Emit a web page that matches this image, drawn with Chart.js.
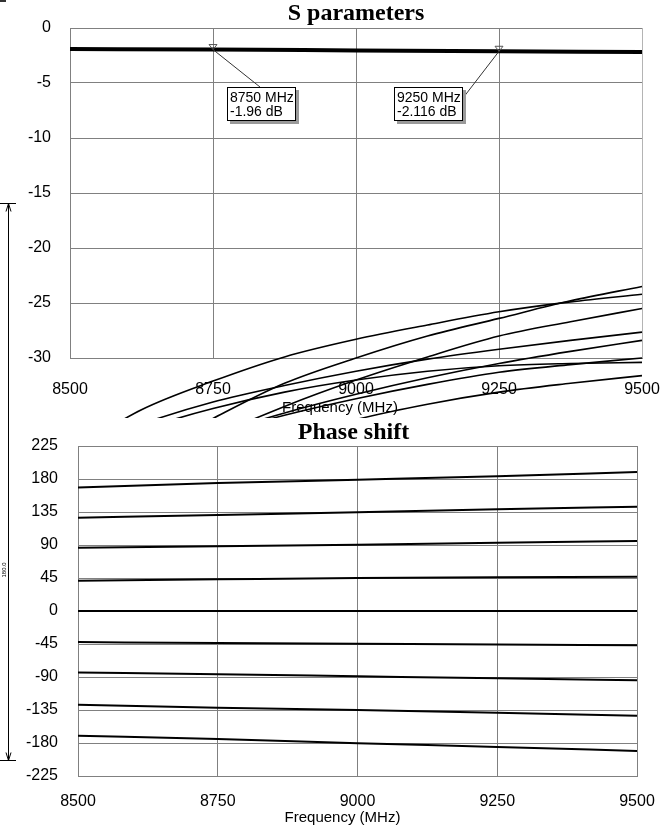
<!DOCTYPE html>
<html>
<head>
<meta charset="utf-8">
<script src="https://cdn.jsdelivr.net/npm/chart.js@4.4.1/dist/chart.umd.min.js"></script>
<style>
  html, body { margin: 0; padding: 0; background: #fff; }
  #wrap { position: relative; width: 662px; height: 832px; overflow: hidden; background: #fff; }
  #wrap canvas { position: absolute; left: 0; top: 0; }
</style>
</head>
<body>
<div id="wrap">
  <canvas id="sChart" width="662" height="418"></canvas>
  <canvas id="phChart" width="662" height="832"></canvas>
</div>
<script>
// ---- frequency axis ----
const X_TICKS = [8500, 8750, 9000, 9250, 9500];
const S_Y_TICKS = [0, -5, -10, -15, -20, -25, -30];
const PH_Y_TICKS = [225, 180, 135, 90, 45, 0, -45, -90, -135, -180, -225];

// ---- transmission (dB) ----
const FREQ = [8500, 8750, 9000, 9250, 9500];
const S21_DB = [-1.92, -1.96, -2.04, -2.116, -2.19];

// ---- marker readouts ----
const MARKER_FREQ = [8750, 9250];
const MARKER_DB = [-1.96, -2.116];

// ---- port reflections (dB) ----
const RL_FREQ = [8500, 8625, 8750, 8875, 9000, 9125, 9250, 9375, 9500];
const S11_DB = [-38.5, -34.7, -32.1, -29.9, -28.3, -27.0, -25.8, -24.9, -24.2];
const S22_DB = [-43.0, -39.0, -35.5, -32.3, -30.0, -28.0, -26.4, -24.8, -23.5];
const S33_DB = [-44.0, -40.5, -37.2, -34.4, -32.0, -29.9, -28.0, -26.7, -25.5];
const S44_DB = [-38.5, -36.0, -34.0, -32.5, -31.2, -30.1, -29.2, -28.4, -27.65];
const S55_DB = [-42.0, -39.5, -37.0, -35.0, -33.3, -31.8, -30.5, -29.4, -28.4];
const S66_DB = [-41.0, -39.0, -37.0, -35.2, -33.7, -32.4, -31.3, -30.6, -30.0];
const S77_DB = [-39.0, -36.5, -34.6, -33.1, -32.0, -31.2, -30.7, -30.5, -30.4];
const S88_DB = [-45.0, -42.0, -39.5, -37.5, -35.6, -34.2, -33.1, -32.3, -31.6];

// ---- phase states (deg) ----
const PH_180 = [168.5, 174.5, 179.0, 183.7, 189.6];
const PH_135 = [127.2, 130.9, 134.5, 138.7, 142.3];
const PH_90  = [86.3, 88.2, 90.5, 93.2, 95.5];
const PH_45  = [41.3, 43.2, 45.0, 45.9, 46.8];
const PH_0   = [0, 0, 0, 0, 0];
const PH_M45 = [-42.4, -43.8, -44.7, -45.6, -46.6];
const PH_M90 = [-83.9, -86.2, -89.0, -91.8, -94.5];
const PH_M135 = [-127.7, -131.9, -135.1, -138.8, -142.9];
const PH_M180 = [-170.1, -174.7, -180.3, -185.3, -190.9];

const SANS = "'Liberation Sans', Arial, Helvetica, sans-serif";
const SERIF = "'Liberation Serif', 'Times New Roman', serif";
const GRID = '#808080';

Chart.defaults.font.family = SANS;
Chart.defaults.font.size = 16;
Chart.defaults.color = '#000';

const pts = (xs, ys) => xs.map((x, i) => ({ x, y: ys[i] }));
const fixedTicks = list => scale => { scale.ticks = list.map(v => ({ value: v })); };

function line(xs, ys, width) {
  return {
    data: pts(xs, ys),
    borderColor: '#000',
    borderWidth: width,
    pointRadius: 0,
    cubicInterpolationMode: 'monotone',
    clip: false
  };
}

function xAxis(height, pad, gridColor) {
  return {
    type: 'linear', min: 8500, max: 9500,
    afterBuildTicks: fixedTicks(X_TICKS),
    afterFit: s => { s.height = height; s.paddingLeft = 0; s.paddingRight = 0; },
    grid: { color: gridColor || GRID, lineWidth: 1, drawTicks: false },
    border: { color: GRID },
    ticks: { padding: pad, maxRotation: 0, autoSkip: false, callback: v => String(v) }
  };
}

function yAxis(min, max, list, width, pad) {
  return {
    type: 'linear', min, max,
    afterBuildTicks: fixedTicks(list),
    afterFit: s => { s.width = width; s.paddingTop = 0; s.paddingBottom = 0; },
    grid: { color: GRID, lineWidth: 1, drawTicks: false },
    border: { color: GRID },
    ticks: { padding: pad, autoSkip: false, callback: v => String(v) }
  };
}

const baseOptions = {
  responsive: false,
  animation: false,
  devicePixelRatio: 1,
  events: [],
  plugins: { legend: { display: false }, tooltip: { enabled: false }, title: { display: false } }
};

// Marker callouts on the transmission trace
const CALLOUTS = [
  { dx: 14, top: 87, attach: 'top' },
  { dx: -105, top: 87, attach: 'right' }
];

const sPanel = {
  id: 'sPanel',
  afterDraw(chart) {
    const { ctx, chartArea: a, scales: { x, y } } = chart;
    ctx.save();
    ctx.fillStyle = '#000';
    ctx.textAlign = 'center';
    ctx.textBaseline = 'middle';
    ctx.font = 'bold 24px ' + SERIF;
    ctx.fillText('S parameters', (a.left + a.right) / 2, 14);
    ctx.font = '15px ' + SANS;
    ctx.fillText('Frequency (MHz)', (a.left + a.right) / 2 - 16, 408);

    ctx.fillStyle = '#333';
    ctx.fillRect(0, 0, 6, 2);

    MARKER_FREQ.forEach((f, i) => {
      const px = x.getPixelForValue(f);
      const py = y.getPixelForValue(MARKER_DB[i]);
      const c = CALLOUTS[i];
      const bw = 69, bh = 34;
      const bx = Math.round(px + c.dx), by = c.top;

      // leader
      ctx.strokeStyle = '#333';
      ctx.lineWidth = 1;
      ctx.beginPath();
      ctx.moveTo(px, py);
      if (c.attach === 'top') ctx.lineTo(bx + 33, by);
      else ctx.lineTo(bx + bw, by + 11);
      ctx.stroke();

      // marker triangle
      ctx.strokeStyle = '#555';
      ctx.beginPath();
      ctx.moveTo(px - 4, py - 5);
      ctx.lineTo(px + 4, py - 5);
      ctx.lineTo(px, py);
      ctx.closePath();
      ctx.stroke();

      // box with shadow
      ctx.fillStyle = '#9a9a9a';
      ctx.fillRect(bx + 3, by + 3, bw, bh);
      ctx.fillStyle = '#fff';
      ctx.fillRect(bx, by, bw, bh);
      ctx.strokeStyle = '#000';
      ctx.strokeRect(bx + 0.5, by + 0.5, bw - 1, bh - 1);

      ctx.fillStyle = '#000';
      ctx.textAlign = 'left';
      ctx.textBaseline = 'middle';
      ctx.font = '14px ' + SANS;
      ctx.fillText(f + ' MHz', bx + 3, by + 11);
      ctx.fillText(MARKER_DB[i] + ' dB', bx + 3, by + 25);
    });
    ctx.restore();
  }
};

new Chart(document.getElementById('sChart'), {
  type: 'line',
  data: {
    datasets: [
      line(RL_FREQ, S11_DB, 1.6),
      line(RL_FREQ, S22_DB, 1.6),
      line(RL_FREQ, S33_DB, 1.6),
      line(RL_FREQ, S44_DB, 1.6),
      line(RL_FREQ, S55_DB, 1.6),
      line(RL_FREQ, S66_DB, 1.6),
      line(RL_FREQ, S77_DB, 1.6),
      line(RL_FREQ, S88_DB, 1.6),
      line(FREQ, S21_DB, 4)
    ]
  },
  options: Object.assign({}, baseOptions, {
    layout: { padding: { left: 0, right: 20, top: 28, bottom: 0 } },
    scales: {
      x: xAxis(60, 22, c => (c.tick && c.tick.value === 9500 ? '#b4b4b4' : GRID)),
      y: yAxis(-30, 0, S_Y_TICKS, 70, 19)
    }
  }),
  plugins: [sPanel]
});

const phPanel = {
  id: 'phPanel',
  afterDraw(chart) {
    const { ctx, chartArea: a } = chart;
    ctx.save();
    ctx.fillStyle = '#000';
    ctx.textAlign = 'center';
    ctx.textBaseline = 'middle';
    ctx.font = 'bold 24px ' + SERIF;
    ctx.fillText('Phase shift', (a.left + a.right) / 2 - 4, 433);
    ctx.font = '15px ' + SANS;
    ctx.fillText('Frequency (MHz)', (a.left + a.right) / 2 - 15, 818);

    // dimension bar at the left edge
    const top = 203.5, bot = 760.5, lx = 8.5;
    ctx.strokeStyle = '#000';
    ctx.lineWidth = 1;
    ctx.beginPath();
    ctx.moveTo(0, top); ctx.lineTo(16, top);
    ctx.moveTo(0, bot); ctx.lineTo(16, bot);
    ctx.moveTo(lx, top); ctx.lineTo(lx, bot);
    ctx.moveTo(lx - 2.5, top + 8); ctx.lineTo(lx, top); ctx.lineTo(lx + 2.5, top + 8);
    ctx.moveTo(lx - 2.5, bot - 8); ctx.lineTo(lx, bot); ctx.lineTo(lx + 2.5, bot - 8);
    ctx.stroke();
    ctx.translate(4, 570);
    ctx.rotate(-Math.PI / 2);
    ctx.font = '6px ' + SANS;
    ctx.fillText('180.0', 0, 0);
    ctx.restore();
  }
};

new Chart(document.getElementById('phChart'), {
  type: 'line',
  data: {
    datasets: [
      line(FREQ, PH_180, 2),
      line(FREQ, PH_135, 2),
      line(FREQ, PH_90, 2),
      line(FREQ, PH_45, 2),
      line(FREQ, PH_0, 2),
      line(FREQ, PH_M45, 2),
      line(FREQ, PH_M90, 2),
      line(FREQ, PH_M135, 2),
      line(FREQ, PH_M180, 2)
    ]
  },
  options: Object.assign({}, baseOptions, {
    layout: { padding: { left: 0, right: 25, top: 446, bottom: 0 } },
    scales: {
      x: xAxis(56, 16),
      y: yAxis(-225, 225, PH_Y_TICKS, 78, 20)
    }
  }),
  plugins: [phPanel]
});
</script>
</body>
</html>
